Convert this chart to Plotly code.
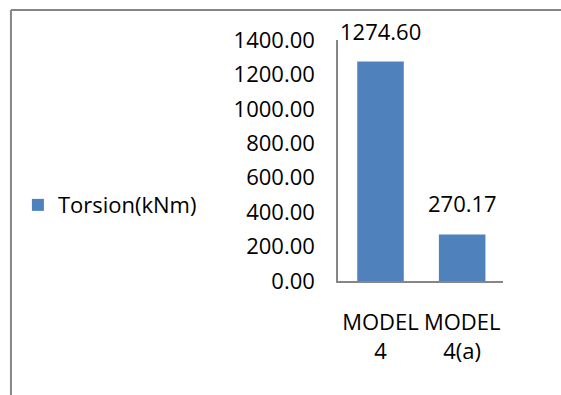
import plotly.graph_objects as go

# Torsion comparison between the two models
categories = ["MODEL<br>4", "MODEL<br>4(a)"]
torsion_knm = [1274.60, 270.17]
y_ticks = [0, 200, 400, 600, 800, 1000, 1200, 1400]
series_name = "Torsion(kNm)"

FONT = "Open Sans"
FONT_SIZE = 22
BAR_COLOR = "#4F81BD"
AXIS_COLOR = "#868686"

fig = go.Figure()
fig.add_trace(go.Bar(
    x=categories,
    y=torsion_knm,
    name=series_name,
    marker=dict(color=BAR_COLOR, line=dict(width=0)),
    width=0.57,
    showlegend=True,
))

# Value labels above each bar
for cat, val in zip(categories, torsion_knm):
    fig.add_annotation(
        x=cat, y=val, xref="x", yref="y",
        text=f"{val:.2f}", showarrow=False,
        yanchor="bottom", yshift=14,
        font=dict(family=FONT, size=FONT_SIZE, color="#000000"),
    )

# Chart-area frame: left and top edges, running to the page edges
frame_left, frame_top = -1.982, 1.1245
frame_right, frame_bottom = 1.3515, -0.473
fig.add_shape(
    type="line", xref="paper", yref="paper",
    x0=frame_left, y0=frame_bottom, x1=frame_left, y1=frame_top,
    line=dict(color=AXIS_COLOR, width=2), layer="below",
)
fig.add_shape(
    type="line", xref="paper", yref="paper",
    x0=frame_left, y0=frame_top, x1=frame_right, y1=frame_top,
    line=dict(color=AXIS_COLOR, width=2), layer="below",
)

fig.update_layout(
    width=561, height=395,
    margin=dict(l=338, r=58, t=40, b=114, autoexpand=False),
    paper_bgcolor="white", plot_bgcolor="white",
    font=dict(family=FONT, size=FONT_SIZE, color="#000000"),
    showlegend=True,
    legend=dict(
        x=-1.94, y=0.315, xanchor="left", yanchor="middle",
        xref="paper", yref="paper",
        font=dict(family=FONT, size=FONT_SIZE, color="#000000"),
        bgcolor="rgba(0,0,0,0)", itemwidth=30,
    ),
    bargap=0.43,
)

fig.update_xaxes(
    showline=True, linecolor=AXIS_COLOR, linewidth=1.5,
    showgrid=False, ticks="", ticklabelstandoff=21,
    tickfont=dict(family=FONT, size=FONT_SIZE),
)
fig.update_yaxes(
    range=[0, 1400], tickvals=y_ticks,
    ticktext=[f"{v:.2f}" for v in y_ticks],
    showline=True, linecolor=AXIS_COLOR, linewidth=1.5,
    showgrid=False, zeroline=False, ticks="", ticklabelstandoff=17,
    tickfont=dict(family=FONT, size=FONT_SIZE),
)

fig.write_html("out.html", config={"displayModeBar": False})
